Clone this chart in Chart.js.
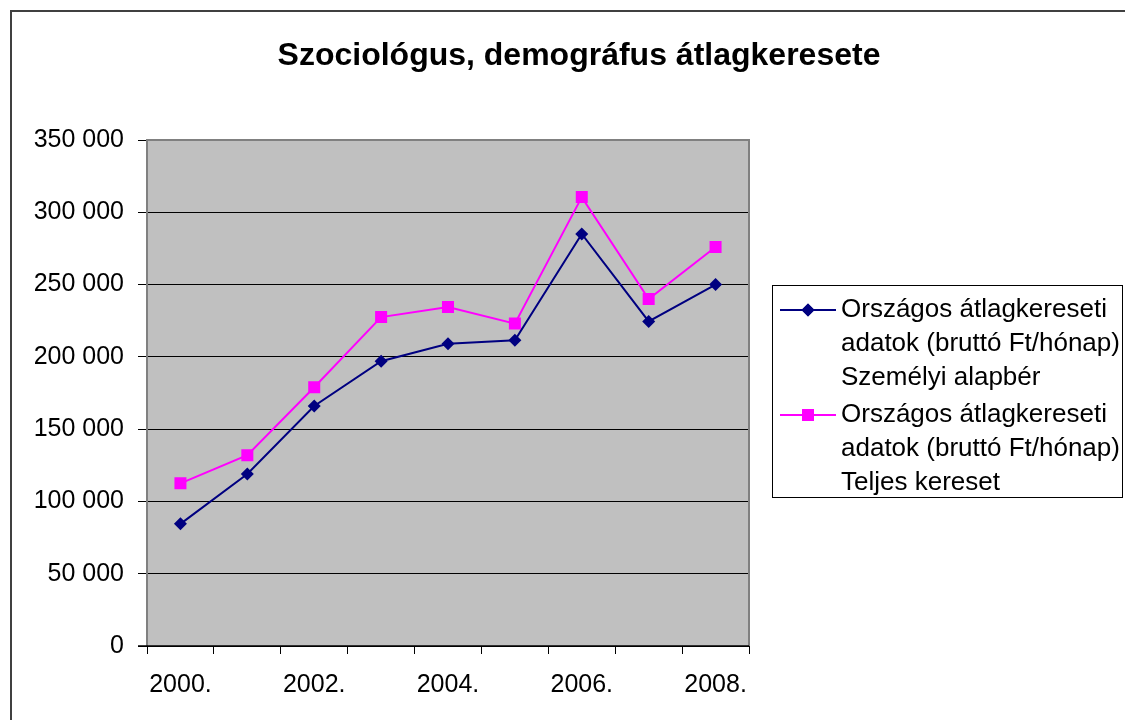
<!DOCTYPE html>
<html>
<head>
<meta charset="utf-8">
<script src="https://cdn.jsdelivr.net/npm/chart.js@4.4.1/dist/chart.umd.min.js"></script>
<style>
  html, body { margin: 0; padding: 0; background: #fff; }
  #wrap { width: 1125px; height: 720px; position: relative; }
</style>
</head>
<body>
<div id="wrap"><canvas id="c" width="1125" height="720"></canvas></div>
<script>
const chartTitle = 'Szociológus, demográfus átlagkeresete';
const categories = ['2000.', '2001.', '2002.', '2003.', '2004.', '2005.', '2006.', '2007.', '2008.'];
const seriesNames = [
  ['Országos átlagkereseti', 'adatok (bruttó Ft/hónap)', 'Személyi alapbér'],
  ['Országos átlagkereseti', 'adatok (bruttó Ft/hónap)', 'Teljes kereset']
];
const alapber = [84500, 119000, 166000, 197000, 209000, 211500, 285000, 224500, 250000];
const teljes = [112500, 132000, 179000, 227500, 234500, 223000, 310500, 240000, 276000];
const yMin = 0, yMax = 350000, yStep = 50000;

const FONT = '"Liberation Sans", Arial, sans-serif';
const colors = ['#000080', '#FF00FF'];
const styles = ['rectRot', 'rect'];
const radii = [6.5, 8.5];

const decor = {
  id: 'decor',
  beforeDraw(chart) {
    const { ctx, chartArea: a } = chart;
    ctx.save();
    ctx.fillStyle = '#C0C0C0';
    ctx.fillRect(a.left, a.top, a.right - a.left, a.bottom - a.top);
    ctx.restore();
  },
  afterDraw(chart) {
    const { ctx, chartArea: a } = chart;
    ctx.save();
    // outer chart border
    ctx.strokeStyle = '#404040';
    ctx.lineWidth = 2;
    ctx.strokeRect(11, 11, 1200, 800);
    // plot area border (gray)
    ctx.strokeStyle = '#808080';
    ctx.lineWidth = 2;
    ctx.beginPath();
    ctx.moveTo(a.left, a.bottom);
    ctx.lineTo(a.left, a.top);
    ctx.lineTo(a.right, a.top);
    ctx.lineTo(a.right, a.bottom);
    ctx.stroke();
    // x axis line black
    ctx.strokeStyle = '#000';
    ctx.lineWidth = 1.5;
    ctx.beginPath();
    ctx.moveTo(a.left - 9, a.bottom);
    ctx.lineTo(a.right, a.bottom);
    ctx.stroke();
    // title
    ctx.fillStyle = '#000';
    ctx.font = 'bold 32px ' + FONT;
    ctx.textAlign = 'center';
    ctx.textBaseline = 'middle';
    ctx.fillText(chartTitle, 579, 56);
    // legend
    const bx = 772, by = 285, bw = 350, bh = 212;
    ctx.strokeStyle = '#000';
    ctx.lineWidth = 1;
    ctx.strokeRect(bx + 0.5, by + 0.5, bw, bh);
    ctx.font = '26px ' + FONT;
    ctx.textAlign = 'left';
    const lineGap = 34;
    const starts = [310, 415];
    chart.data.datasets.forEach((ds, i) => {
      const y0 = starts[i];
      ctx.strokeStyle = ds.borderColor;
      ctx.lineWidth = 2;
      ctx.beginPath();
      ctx.moveTo(780, y0);
      ctx.lineTo(836, y0);
      ctx.stroke();
      ctx.fillStyle = ds.borderColor;
      Chart.helpers.drawPoint(ctx, { pointStyle: ds.pointStyle, radius: ds.pointRadius, borderWidth: 0 }, 808, y0);
      ctx.fill();
      ctx.fillStyle = '#000';
      ds.label.forEach((t, k) => ctx.fillText(t, 841, y0 + k * lineGap));
    });
    ctx.restore();
  }
};

new Chart(document.getElementById('c'), {
  type: 'line',
  data: {
    labels: categories,
    datasets: [alapber, teljes].map((vals, i) => ({
      label: seriesNames[i],
      data: vals,
      borderColor: colors[i],
      backgroundColor: colors[i],
      borderWidth: 2,
      pointStyle: styles[i],
      pointRadius: radii[i],
      pointHoverRadius: radii[i],
      pointBorderWidth: 0,
      tension: 0,
      fill: false
    }))
  },
  options: {
    responsive: false,
    animation: false,
    devicePixelRatio: 1,
    layout: { padding: { left: 0, top: 140, right: 376, bottom: 0 } },
    plugins: { legend: { display: false }, title: { display: false }, tooltip: { enabled: false } },
    scales: {
      x: {
        type: 'category',
        offset: true,
        grid: { display: true, drawOnChartArea: false, drawTicks: true, tickLength: 8, color: '#000', lineWidth: 1, offset: true },
        border: { display: false },
        ticks: {
          autoSkip: false, maxRotation: 0, color: '#000', padding: 16,
          font: { family: FONT, size: 25 },
          callback: function (v, idx) { return idx % 2 === 0 ? this.getLabelForValue(v) : ''; }
        },
        afterFit(s) { s.height = 74; }
      },
      y: {
        min: yMin, max: yMax,
        grid: { color: '#000', lineWidth: 1, drawTicks: true, tickLength: 9 },
        border: { display: false },
        ticks: {
          stepSize: yStep, color: '#000', padding: 14,
          font: { family: FONT, size: 25 },
          callback: (v) => v === 0 ? '0' : String(v).replace(/\B(?=(\d{3})+(?!\d))/g, ' ')
        },
        afterFit(s) { s.width = 147; }
      }
    }
  },
  plugins: [decor]
});
</script>
</body>
</html>
